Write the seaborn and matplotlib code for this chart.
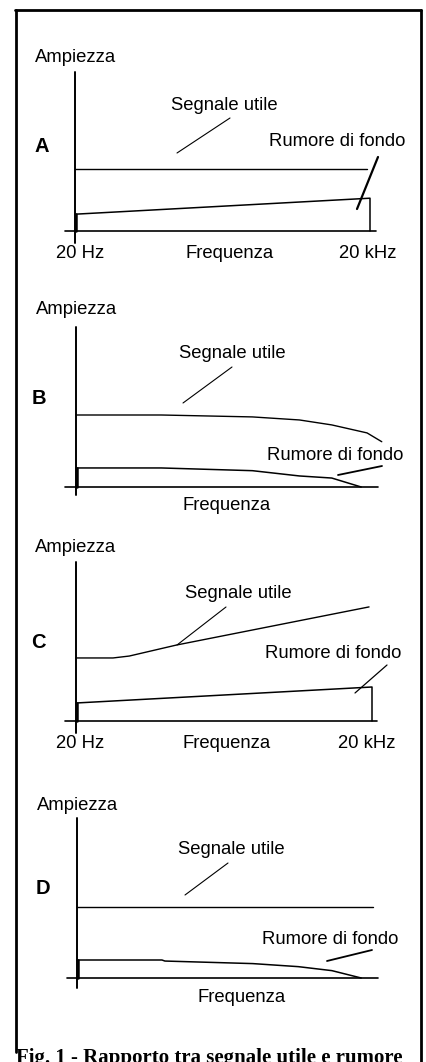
import matplotlib
matplotlib.use("Agg")
import matplotlib.pyplot as plt
import pandas as pd
import seaborn as sns

sns.set_theme(style="white")
plt.rcParams["font.family"] = ["Liberation Sans", "DejaVu Sans"]
plt.rcParams["text.color"] = "black"

W, H = 427, 1062

# frequency: 0 = 20 Hz, 1 = 20 kHz ; amplitude in arbitrary units
panel_names = ["A", "B", "C", "D"]

a_sig_f = [0, 0.99]
a_sig = [3.9, 3.9]
a_noise_f = [0, 1.0, 1.0]
a_noise = [1.05, 2.05, 0]

b_sig_f = [0, 0.29, 0.6, 0.76, 0.87, 0.99, 1.04]
b_sig = [4.5, 4.5, 4.38, 4.19, 3.88, 3.38, 2.83]
b_noise_f = [0, 0.29, 0.6, 0.76, 0.87, 0.97]
b_noise = [1.19, 1.19, 1.02, 0.69, 0.56, 0]

c_sig_f = [0, 0.125, 0.18, 0.34, 0.99]
c_sig = [3.94, 3.94, 4.06, 4.75, 7.13]
c_noise_f = [0, 1.0, 1.0]
c_noise = [1.125, 2.125, 0]

d_sig_f = [0, 1.01]
d_sig = [4.44, 4.44]
d_noise_f = [0, 0.29, 0.3, 0.6, 0.755, 0.87, 0.97]
d_noise = [1.125, 1.125, 1.06, 0.9, 0.71, 0.46, 0]

signals = [(a_sig_f, a_sig), (b_sig_f, b_sig), (c_sig_f, c_sig), (d_sig_f, d_sig)]
noises = [(a_noise_f, a_noise), (b_noise_f, b_noise), (c_noise_f, c_noise), (d_noise_f, d_noise)]
freq_labels = [("20 Hz", "Frequenza", "20 kHz"), ("", "Frequenza", ""),
               ("20 Hz", "Frequenza", "20 kHz"), ("", "Frequenza", "")]

# layout (pixels): axis origin, 20 kHz x-position, axis extents
origins = [(75, 231), (76, 487), (76, 721), (77, 978)]
x_ends = [370, 370, 372, 370]
yunit = 16.0
yaxis_px = [(72, 243), (327, 495), (562, 733), (818, 988)]
xaxis_px = [(65, 376), (65, 378), (65, 377), (67, 378)]

fig = plt.figure(figsize=(W / 100, H / 100), dpi=100)
fig.patch.set_facecolor("white")

# background axes in pixel coordinates for frame and annotations
bg = fig.add_axes([0, 0, 1, 1])
bg.set_xlim(0, W)
bg.set_ylim(H, 0)
bg.axis("off")
bg.plot([16, 16], [10, 1052], color="black", lw=2)
bg.plot([15, 421], [10, 10], color="black", lw=2)
bg.plot([421, 421], [10, 1062], color="black", lw=2)

fs = 13.3
texts = [
    [(76, 58), (42, 146), (224, 106), (337, 142)],
    [(77, 310), (39, 398), (232, 353), (335, 456)],
    [(76, 548), (38, 643), (238, 593), (333, 653)],
    [(78, 805), (43, 888), (231, 850), (330, 940)],
]
freq_y = [253, 505, 743, 998]
freq_x = [(80, 230, 368), (80, 227, 367), (80, 227, 367), (80, 242, 367)]
seg_leaders = [((230, 118), (177, 153)), ((232, 367), (183, 403)),
               ((226, 607), (177, 645)), ((228, 863), (185, 895))]
rum_leaders = [((378, 157), (357, 209)), ((382, 466), (338, 475)),
               ((387, 665), (355, 693)), ((372, 950), (327, 961))]
rum_lw = [1.6, 1.3, 0.9, 1.3]

for i, name in enumerate(panel_names):
    ox, oy = origins[i]
    xunit = x_ends[i] - ox
    x0, x1 = ox - 40, ox + 330
    y0, y1 = oy - 190, oy + 30
    ax = fig.add_axes([x0 / W, 1 - y1 / H, (x1 - x0) / W, (y1 - y0) / H])
    ax.set_xlim((x0 - ox) / xunit, (x1 - ox) / xunit)
    ax.set_ylim((oy - y1) / yunit, (oy - y0) / yunit)
    ax.axis("off")
    ax.patch.set_alpha(0)

    sf, sv = signals[i]
    nf, nv = noises[i]
    sig_df = pd.DataFrame({"freq": sf, "amp": sv})
    noise_df = pd.DataFrame({"freq": nf, "amp": nv})
    sns.lineplot(data=sig_df, x="freq", y="amp", ax=ax, color="black", lw=1.0,
                 estimator=None, sort=False)
    sns.lineplot(data=noise_df, x="freq", y="amp", ax=ax, color="black", lw=1.1,
                 estimator=None, sort=False)
    # left edge of noise band
    ax.plot([0.005, 0.005], [0, nv[0]], color="black", lw=1.8)

    # axes lines
    ya, yb = yaxis_px[i]
    ax.plot([0, 0], [(oy - ya) / yunit, (oy - yb) / yunit], color="black", lw=1.4)
    xa, xb = xaxis_px[i]
    ax.plot([(xa - ox) / xunit, (xb - ox) / xunit], [0, 0], color="black", lw=1.2)

    (amp_pos, lab_pos, seg_pos, rum_pos) = texts[i]
    bg.text(*amp_pos, "Ampiezza", ha="center", va="center", fontsize=fs)
    bg.text(*lab_pos, name, ha="center", va="center", fontsize=14.5, fontweight="bold")
    bg.text(*seg_pos, "Segnale utile", ha="center", va="center", fontsize=fs)
    bg.text(*rum_pos, "Rumore di fondo", ha="center", va="center", fontsize=fs)
    for lbl, fx in zip(freq_labels[i], freq_x[i]):
        if lbl:
            bg.text(fx, freq_y[i], lbl, ha="center", va="center", fontsize=fs)
    (p, q) = seg_leaders[i]
    bg.plot([p[0], q[0]], [p[1], q[1]], color="black", lw=0.8)
    (p, q) = rum_leaders[i]
    bg.plot([p[0], q[0]], [p[1], q[1]], color="black", lw=rum_lw[i])

# caption, cut off at the bottom edge as in the scan
bg.text(16, 1048, "Fig. 1 - Rapporto tra segnale utile e rumore",
        ha="left", va="top", fontsize=15, fontweight="bold",
        family=["Liberation Serif", "DejaVu Serif"])

fig.savefig("out.png", dpi=100)
